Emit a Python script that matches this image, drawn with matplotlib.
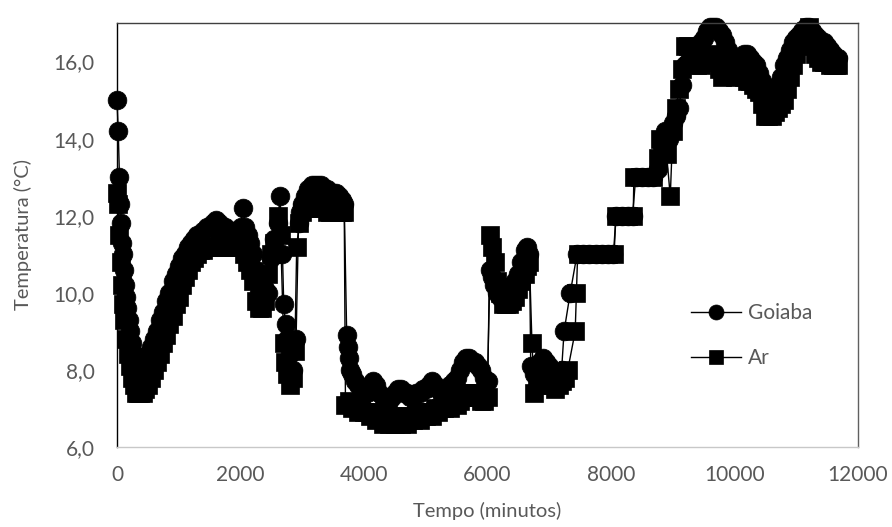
import matplotlib
matplotlib.use("Agg")
import matplotlib.pyplot as plt
from matplotlib.ticker import FuncFormatter

# Goiaba: (tempo em minutos, temperatura em C)
goiaba_pts = [
    (0, 15.0), (20, 14.2), (40, 13.0), (55, 12.3), (70, 11.8), (85, 11.3), (100, 11.0),
    (115, 10.6), (130, 10.2), (150, 9.9), (170, 9.6), (190, 9.3), (215, 9.0), (240, 8.7),
    (270, 8.4), (300, 8.2), (340, 8.0), (380, 7.9), (420, 8.0), (460, 8.2), (500, 8.4),
    (550, 8.6), (600, 8.8), (650, 9.0), (700, 9.3), (750, 9.5), (800, 9.8), (850, 10.0),
    (900, 10.3), (950, 10.5), (1000, 10.7), (1050, 10.9), (1100, 11.0), (1150, 11.2),
    (1200, 11.3), (1250, 11.4), (1300, 11.5), (1350, 11.5), (1400, 11.6), (1450, 11.7),
    (1500, 11.7), (1550, 11.8), (1600, 11.9), (1650, 11.8), (1700, 11.7), (1750, 11.7),
    (1800, 11.6), (1850, 11.6), (1900, 11.6), (1950, 11.5), (2000, 11.7), (2040, 12.2),
    (2080, 11.7), (2120, 11.5), (2160, 11.3), (2200, 11.0), (2250, 10.6), (2300, 10.0),
    (2350, 9.9), (2400, 10.1), (2450, 10.0), (2500, 10.9), (2550, 11.4), (2600, 11.8),
    (2640, 12.5), (2680, 11.0), (2700, 9.7), (2730, 9.2), (2760, 8.8), (2800, 8.4),
    (2850, 8.0), (2900, 8.8), (2940, 11.8), (2970, 12.1), (3000, 12.3), (3050, 12.5),
    (3100, 12.7), (3150, 12.8), (3200, 12.8), (3250, 12.8), (3300, 12.8), (3350, 12.7),
    (3400, 12.7), (3450, 12.6), (3500, 12.6), (3550, 12.6), (3600, 12.5), (3640, 12.4),
    (3680, 12.3), (3720, 8.9), (3740, 8.6), (3760, 8.3), (3780, 8.0), (3800, 7.9),
    (3850, 7.7), (3900, 7.6), (3950, 7.5), (4000, 7.5), (4050, 7.4), (4100, 7.6),
    (4150, 7.7), (4200, 7.6), (4250, 7.4), (4300, 7.3), (4350, 7.2), (4400, 7.2),
    (4450, 7.3), (4500, 7.4), (4550, 7.5), (4600, 7.5), (4650, 7.4), (4700, 7.4),
    (4750, 7.3), (4800, 7.3), (4850, 7.4), (4900, 7.4), (4950, 7.5), (5000, 7.5),
    (5050, 7.6), (5100, 7.7), (5150, 7.6), (5200, 7.5), (5250, 7.4), (5300, 7.5),
    (5350, 7.5), (5400, 7.6), (5450, 7.7), (5500, 7.8), (5550, 8.0), (5600, 8.2),
    (5650, 8.3), (5700, 8.3), (5750, 8.2), (5800, 8.2), (5850, 8.1), (5900, 8.0),
    (5950, 7.8), (6000, 7.7), (6040, 10.6), (6070, 10.4), (6100, 10.2), (6150, 10.0),
    (6200, 9.9), (6250, 9.9), (6300, 10.0), (6350, 10.1), (6400, 10.2), (6450, 10.3),
    (6500, 10.5), (6550, 10.8), (6600, 11.1), (6640, 11.2), (6680, 11.0), (6700, 8.1),
    (6750, 7.9), (6800, 8.0), (6850, 8.2), (6900, 8.3), (6950, 8.2), (7000, 8.1),
    (7050, 8.0), (7100, 7.9), (7150, 7.9), (7200, 8.0), (7240, 9.0), (7340, 10.0),
    (7450, 11.0), (7550, 11.0), (7650, 11.0), (7750, 11.0), (7850, 11.0), (7950, 11.0),
    (8040, 11.0), (8080, 12.0), (8180, 12.0), (8280, 12.0), (8350, 12.0), (8400, 13.0),
    (8500, 13.0), (8600, 13.0), (8680, 13.0), (8760, 13.2), (8820, 13.8), (8880, 14.2),
    (8940, 14.0), (9000, 14.4), (9050, 14.6), (9100, 14.8), (9150, 15.4), (9200, 15.9),
    (9250, 16.0), (9300, 16.1), (9350, 16.3), (9400, 16.4), (9450, 16.5), (9500, 16.6),
    (9550, 16.8), (9600, 16.9), (9650, 16.9), (9700, 16.9), (9750, 16.8), (9800, 16.7),
    (9850, 16.5), (9900, 16.3), (9950, 16.1), (10000, 16.0), (10050, 16.0), (10100, 16.1),
    (10150, 16.2), (10200, 16.2), (10250, 16.1), (10300, 16.0), (10350, 15.9),
    (10400, 15.7), (10450, 15.5), (10500, 15.3), (10550, 15.1), (10600, 15.0),
    (10650, 15.2), (10700, 15.4), (10750, 15.6), (10800, 15.9), (10850, 16.1),
    (10900, 16.3), (10950, 16.5), (11000, 16.6), (11050, 16.7), (11100, 16.8),
    (11150, 16.9), (11200, 16.9), (11250, 16.8), (11300, 16.7), (11350, 16.6),
    (11400, 16.5), (11450, 16.5), (11500, 16.4), (11550, 16.3), (11600, 16.2),
    (11650, 16.1), (11680, 16.1),
]

# Ar
ar_pts = [
    (0, 12.6), (20, 12.3), (40, 11.5), (60, 10.8), (80, 10.2), (100, 9.7), (120, 9.3),
    (150, 8.8), (180, 8.4), (210, 8.1), (240, 7.8), (270, 7.6), (300, 7.4), (340, 7.4),
    (380, 7.4), (420, 7.4), (460, 7.5), (500, 7.6), (550, 7.8), (600, 8.0), (650, 8.2),
    (700, 8.4), (750, 8.7), (800, 8.9), (850, 9.2), (900, 9.4), (950, 9.7), (1000, 9.9),
    (1050, 10.2), (1100, 10.4), (1150, 10.6), (1200, 10.8), (1250, 10.9), (1300, 11.0),
    (1350, 11.1), (1400, 11.1), (1450, 11.2), (1500, 11.2), (1550, 11.2), (1600, 11.2),
    (1650, 11.3), (1700, 11.3), (1750, 11.2), (1800, 11.2), (1850, 11.2), (1900, 11.2),
    (1950, 11.2), (2000, 11.2), (2050, 11.0), (2100, 10.8), (2150, 10.6), (2200, 10.3),
    (2250, 9.8), (2300, 9.6), (2350, 9.6), (2400, 9.8), (2450, 10.5), (2500, 11.0),
    (2550, 11.3), (2600, 12.0), (2650, 11.5), (2700, 8.7), (2720, 8.2), (2750, 7.9),
    (2800, 7.6), (2850, 7.8), (2880, 8.5), (2910, 11.2), (2950, 11.8), (3000, 12.1),
    (3050, 12.2), (3100, 12.2), (3150, 12.3), (3200, 12.3), (3250, 12.3), (3300, 12.2),
    (3350, 12.2), (3400, 12.1), (3450, 12.1), (3500, 12.2), (3550, 12.2), (3600, 12.1),
    (3640, 12.1), (3680, 12.1), (3700, 7.1), (3750, 7.2), (3800, 7.0), (3850, 7.1),
    (3900, 6.9), (3950, 7.0), (4000, 6.9), (4050, 6.9), (4100, 6.8), (4150, 6.9),
    (4200, 6.7), (4250, 6.8), (4300, 6.6), (4350, 6.7), (4400, 6.6), (4450, 6.8),
    (4500, 6.6), (4550, 6.7), (4600, 6.6), (4650, 6.8), (4700, 6.6), (4750, 6.8),
    (4800, 6.7), (4850, 6.9), (4900, 6.7), (4950, 6.9), (5000, 6.8), (5050, 6.9),
    (5100, 6.8), (5150, 7.0), (5200, 6.9), (5250, 7.0), (5300, 7.0), (5350, 7.1),
    (5400, 7.0), (5450, 7.2), (5500, 7.1), (5550, 7.2), (5600, 7.3), (5650, 7.4),
    (5700, 7.4), (5750, 7.4), (5800, 7.3), (5850, 7.3), (5900, 7.2), (5950, 7.2),
    (6000, 7.3), (6040, 11.5), (6080, 11.2), (6120, 10.8), (6160, 10.3), (6200, 10.0),
    (6250, 9.7), (6300, 9.7), (6350, 9.7), (6400, 9.8), (6450, 9.9), (6500, 10.1),
    (6550, 10.3), (6600, 10.5), (6640, 10.7), (6680, 10.8), (6720, 8.7), (6760, 7.4),
    (6800, 7.6), (6850, 7.7), (6900, 7.7), (6950, 7.8), (7000, 7.8), (7050, 7.6),
    (7100, 7.5), (7150, 7.6), (7200, 7.7), (7250, 7.8), (7300, 8.0), (7420, 9.0),
    (7440, 10.0), (7460, 11.0), (7550, 11.0), (7650, 11.0), (7750, 11.0), (7850, 11.0),
    (7950, 11.0), (8050, 11.0), (8080, 12.0), (8180, 12.0), (8280, 12.0), (8360, 12.0),
    (8370, 13.0), (8470, 13.0), (8570, 13.0), (8680, 13.0), (8760, 13.5), (8800, 14.0),
    (8850, 13.8), (8900, 13.6), (8960, 12.5), (9000, 14.2), (9060, 14.8), (9100, 15.3),
    (9150, 15.8), (9200, 16.4), (9250, 16.4), (9300, 16.3), (9350, 16.1), (9400, 15.9),
    (9450, 15.9), (9500, 16.0), (9550, 16.1), (9600, 16.2), (9650, 16.1), (9700, 16.0),
    (9750, 15.8), (9800, 15.6), (9850, 15.7), (9900, 15.8), (9950, 15.7), (10000, 15.6),
    (10050, 15.7), (10100, 15.8), (10150, 15.6), (10200, 15.5), (10250, 15.5),
    (10300, 15.4), (10350, 15.3), (10400, 15.2), (10450, 14.9), (10500, 14.6),
    (10550, 14.6), (10600, 14.6), (10650, 14.7), (10700, 14.8), (10750, 14.9),
    (10800, 15.0), (10850, 15.3), (10900, 15.6), (10950, 15.9), (11000, 16.2),
    (11050, 16.4), (11100, 16.6), (11150, 16.8), (11200, 16.9), (11250, 16.5),
    (11300, 16.2), (11350, 16.1), (11400, 16.0), (11450, 16.0), (11500, 16.0),
    (11550, 15.9), (11600, 15.9), (11650, 15.9), (11680, 15.9),
]

goiaba_t = [p[0] for p in goiaba_pts]
goiaba_temp = [p[1] for p in goiaba_pts]
ar_t = [p[0] for p in ar_pts]
ar_temp = [p[1] for p in ar_pts]

plt.rcParams['font.family'] = ['Lato', 'DejaVu Sans']
grey = '#595959'

fig = plt.figure(figsize=(8.92, 5.27), dpi=100)
ax = fig.add_axes([117/892, 80/527, 741/892, 424/527])

ax.plot(goiaba_t, goiaba_temp, color='black', lw=1.0, marker='o', ms=13.5,
        mec='black', mfc='black', mew=0.5, clip_on=False, label='Goiaba')
ax.plot(ar_t, ar_temp, color='black', lw=1.0, marker='s', ms=12.5,
        mec='black', mfc='black', mew=0.5, clip_on=False, label='Ar')

ax.set_xlim(0, 12000)
ax.set_ylim(6, 17)
ax.set_xticks([0, 2000, 4000, 6000, 8000, 10000, 12000])
ax.set_yticks([6, 8, 10, 12, 14, 16])
ax.yaxis.set_major_formatter(FuncFormatter(lambda v, p: f"{v:.1f}".replace('.', ',')))
ax.tick_params(length=0, labelsize=15, labelcolor=grey)
ax.tick_params(axis='x', pad=13)
ax.tick_params(axis='y', pad=16)

ax.spines['left'].set_color('black')
ax.spines['bottom'].set_color('#c8c8c8')
ax.spines['top'].set_color('#404040')
ax.spines['right'].set_color('#606060')
for s in ax.spines.values():
    s.set_linewidth(1.0)

ax.set_xlabel('Tempo (minutos)', fontsize=14.5, color=grey)
ax.set_ylabel('Temperatura (°C)', fontsize=14.5, color=grey)
ax.xaxis.set_label_coords(0.5, -0.13)
ax.yaxis.set_label_coords(-0.115, 0.5)

ax.legend(loc='center left', bbox_to_anchor=(0.775, 0.262), frameon=False,
          fontsize=15, labelcolor=grey, markerscale=0.8, handlelength=2.4,
          handletextpad=0.3, labelspacing=1.2, borderpad=0, borderaxespad=0)

fig.savefig('out.png', dpi=100)
